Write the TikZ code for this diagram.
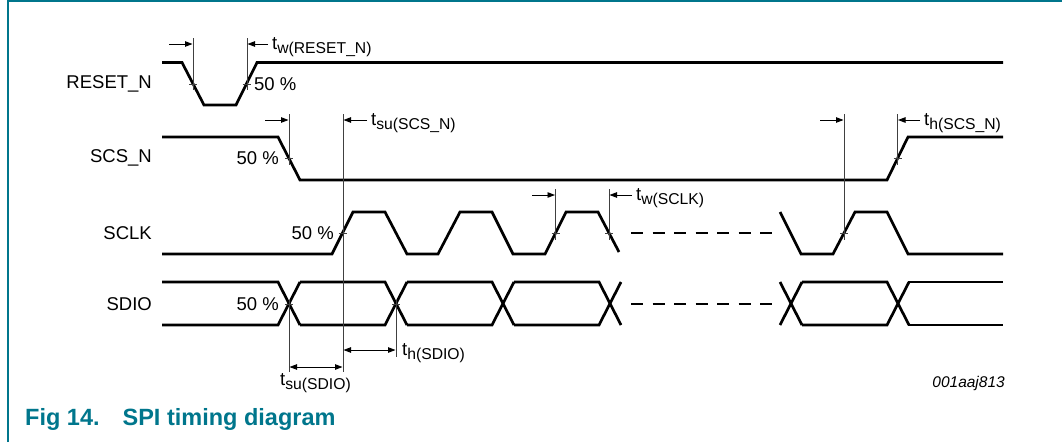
\documentclass[tikz,border=0pt]{standalone}
\usepackage{fontspec}
\setmainfont{Liberation Sans}
\usetikzlibrary{arrows.meta}
\definecolor{nxpteal}{RGB}{0,118,140}
\newcommand\tsub[1]{t\raisebox{-4pt}{\fontsize{15.7}{16}\selectfont #1}}
\tikzset{
  sig/.style={line width=2.7pt, line join=miter, line cap=butt},
  markline/.style={line width=0.8pt, black!75},
  tickline/.style={line width=0.8pt, black!75},
  dimarr/.style={line width=0.9pt, -{Triangle[length=7.5pt,width=5.5pt]}},
  dimboth/.style={line width=0.9pt, {Triangle[length=7.5pt,width=5.5pt]}-{Triangle[length=7.5pt,width=5.5pt]}},
  lab/.style={inner sep=0pt, font=\fontsize{18.5}{20}\selectfont},
  dashsig/.style={line width=2.7pt, dash pattern=on 12pt off 9.5pt},
}
\begin{document}
\begin{tikzpicture}[x=1pt,y=-1pt]
\useasboundingbox (0,0) rectangle (1062,442);
% frame
\draw[nxpteal, line width=1.8pt] (8,442) -- (8,1) -- (1062,1);

% signal names
\node[lab, anchor=east] (nreset) at (152,84) {RESET\_N};
\node[lab, anchor=east] (nscs) at (152,158) {SCS\_N};
\node[lab, anchor=east] (nsclk) at (152,233) {SCLK};
\node[lab, anchor=east] (nsdio) at (152,304) {SDIO};

% 50 % labels
\node[lab, anchor=west] (p1) at (254,84) {50 \%};
\node[lab, anchor=east] (p2) at (279,158) {50 \%};
\node[lab, anchor=east] (p3) at (334,233) {50 \%};
\node[lab, anchor=east] (p4) at (279,304) {50 \%};

% RESET_N
\draw[sig] (162,62.5) -- (182,62.5) -- (204,105) -- (236,105) -- (257,62.5) -- (1003,62.5);
% SCS_N
\draw[sig] (162,137) -- (278,137) -- (300,180) -- (887,180) -- (908,137) -- (1003,137);
% SCLK
\draw[sig] (162,254) -- (332,254) -- (353,212) -- (385,212) -- (407,254) -- (438,254)
  -- (460,212) -- (492,212) -- (513,254) -- (545,254) -- (566,212) -- (598,212) -- (619,252);
\draw[sig] (780,212) -- (801,254) -- (833,254) -- (855,212) -- (887,212) -- (908,254) -- (1003,254);
\draw[dashsig] (631,233) -- (772,233);
% SDIO
\foreach \a/\b in {162/278, 300/385, 407/492, 514/599, 802/887}{
  \draw[sig] (\a,282) -- (\b,282) -- ({\b+22},325);
  \draw[sig] (\a,325) -- (\b,325) -- ({\b+22},282);
}
\draw[sig] (780,282) -- (802,325);
\draw[sig] (780,325) -- (802,282);
\draw[sig] (908,282) -- (1003,282);
\draw[sig] (908,325) -- (1003,325);
\draw[dashsig] (631,304) -- (772,304);

% 50% ticks
\foreach \x/\y in {193/84, 246.5/84, 289/158, 897.5/158, 342.5/233, 555.5/233, 609/233, 844/233, 289/304, 396/304}{
  \draw[tickline] ({\x-4},\y) -- ({\x+4},\y);
}

% marker lines
\coordinate (mr1t) at (193,38);   \coordinate (mr1b) at (193,90);
\coordinate (mr2t) at (247,38);   \coordinate (mr2b) at (247,90);
\coordinate (ms1t) at (289,114);  \coordinate (ms1b) at (289,165);
\coordinate (ms2t) at (343,114);  \coordinate (ms2b) at (343,372);
\coordinate (mc1t) at (555.5,189);\coordinate (mc1b) at (555.5,240);
\coordinate (mc2t) at (609,189);  \coordinate (mc2b) at (609,240);
\coordinate (mh1t) at (844,114);  \coordinate (mh1b) at (844,240);
\coordinate (mh2t) at (897.5,114);\coordinate (mh2b) at (897.5,165);
\coordinate (md1t) at (289,300);  \coordinate (md1b) at (289,372);
\coordinate (md2t) at (396,300);  \coordinate (md2b) at (396,357);
\foreach \m in {mr1,mr2,ms1,ms2,mc1,mc2,mh1,mh2,md1,md2}{
  \draw[markline] (\m t) -- (\m b);
}

% dimension arrows
\draw[dimarr] (169,44) -- (192.5,44);
\draw[dimarr] (268,44) -- (247.5,44);
\node[lab, anchor=base west] (tw1) at (272,49) {\tsub{w(RESET\_N)}};

\draw[dimarr] (265,120) -- (288.5,120);
\draw[dimarr] (367,120) -- (343.5,120);
\node[lab, anchor=base west] (tsu1) at (371,125) {\tsub{su(SCS\_N)}};

\draw[dimarr] (532,195) -- (555,195);
\draw[dimarr] (632,195) -- (609.5,195);
\node[lab, anchor=base west] (tw2) at (636,200) {\tsub{w(SCLK)}};

\draw[dimarr] (820,120) -- (843.5,120);
\draw[dimarr] (920,120) -- (898,120);
\node[lab, anchor=base west] (th1) at (924,125) {\tsub{h(SCS\_N)}};

\draw[dimboth] (289.5,367) -- (342.5,367);
\node[lab, anchor=base west] (tsu2) at (280,385) {\tsub{su(SDIO)}};

\draw[dimboth] (343.5,350) -- (395.5,350);
\node[lab, anchor=base west] (th2) at (402,355) {\tsub{h(SDIO)}};

% figure id and caption
\node[inner sep=0pt, anchor=base east, font=\fontsize{15.5}{17}\selectfont\itshape] (fid) at (1005,387) {001aaj813};
\node[inner sep=0pt, anchor=base west, text=nxpteal, font=\fontsize{23.5}{26}\selectfont\bfseries] (cap) at (25,425) {Fig 14.\hspace{23pt}SPI timing diagram};
\end{tikzpicture}
\end{document}
